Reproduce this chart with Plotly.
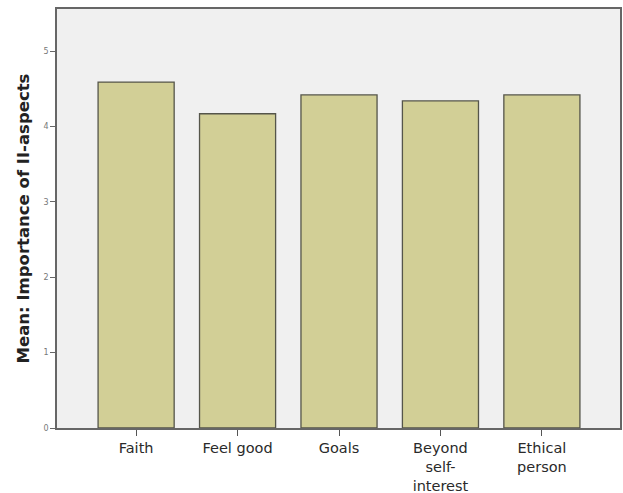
import plotly.graph_objects as go

categories = ["Faith", "Feel good", "Goals", "Beyond<br>self-<br>interest", "Ethical<br>person"]
means = [4.59, 4.17, 4.42, 4.34, 4.42]
y_ticks = [0, 1, 2, 3, 4, 5]

fig = go.Figure(go.Bar(
    x=list(range(len(categories))),
    y=means,
    width=0.75,
    marker=dict(color="#d2cf96", line=dict(color="#55554a", width=1.3)),
))

fig.update_layout(
    width=623, height=493,
    margin=dict(l=57, r=3, t=9, b=65),
    paper_bgcolor="white",
    plot_bgcolor="#f0f0f0",
    showlegend=False,
    font=dict(family="DejaVu Sans", color="#333"),
)
fig.update_xaxes(
    tickmode="array", tickvals=list(range(len(categories))), ticktext=categories,
    range=[-0.78, 4.77],
    showline=True, linecolor="#666", linewidth=1.5, mirror=True,
    ticks="outside", ticklen=6, tickcolor="#555", tickwidth=1,
    tickfont=dict(size=14.5, color="#2a2a2a"),
    showgrid=False, zeroline=False, automargin=False,
)
fig.update_yaxes(
    range=[0, 5.56], tickvals=y_ticks,
    showline=True, linecolor="#666", linewidth=1.5, mirror=True,
    ticks="outside", ticklen=5, tickcolor="#666",
    tickfont=dict(size=8, color="#777"),
    showgrid=False, zeroline=False, automargin=False,
    title=dict(text="<b>Mean: Importance of II-aspects</b>", font=dict(size=16.5, color="#222"), standoff=10),
)

fig.write_html(
    "out.html",
    config={"displayModeBar": False},
    post_script="document.body.style.margin='0';document.body.style.overflow='hidden';",
)
